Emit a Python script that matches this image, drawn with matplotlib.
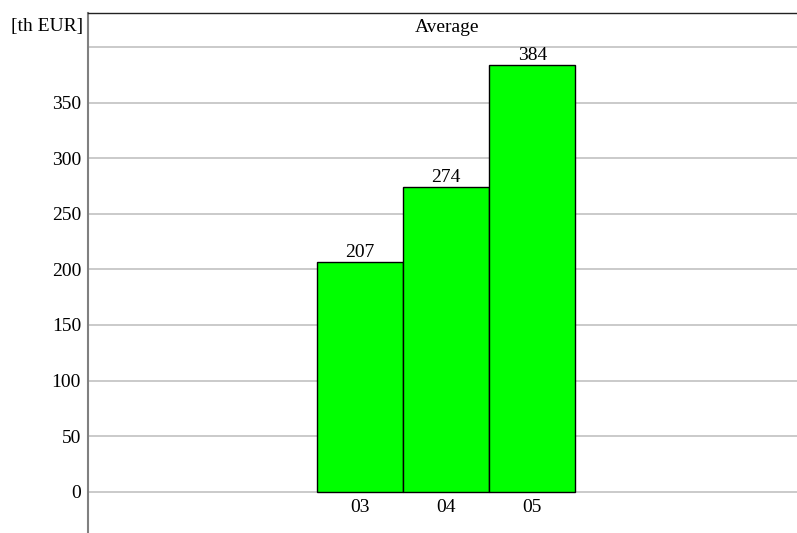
import matplotlib.pyplot as plt
import numpy as np

anos = ["03", "04", "05"]
medias = [207, 274, 384]
marcas_y = [0, 50, 100, 150, 200, 250, 300, 350]
linhas_grade = [0, 50, 100, 150, 200, 250, 300, 350, 400]

plt.rcParams['font.family'] = ['Liberation Serif', 'DejaVu Serif']
tam_fonte = 14

fig = plt.figure(figsize=(7.97, 5.33), dpi=100)
ax = fig.add_axes([88 / 797, 0, (797 - 88) / 797, (533 - 13) / 533])

x = np.arange(len(anos))
ax.bar(x, medias, width=1.0, color='#00ff00', edgecolor='black', linewidth=1, zorder=3)

for y in linhas_grade:
    ax.axhline(y, color='#c6c6c6', linewidth=1.3, zorder=1)

for xi, v in zip(x, medias):
    ax.annotate(str(v), (xi, v), xytext=(0, 0.5), textcoords='offset points',
                ha='center', va='bottom', fontsize=tam_fonte, zorder=4)

# rótulos do eixo x ficam dentro da área (abaixo do zero)
for xi, rotulo in zip(x, anos):
    ax.text(xi, -14.5, rotulo, ha='center', va='center', fontsize=tam_fonte)

ax.set_xlim(-3.157, 5.073)
ax.set_ylim(-37.1, 430.6)
ax.set_xticks([])
ax.set_yticks(marcas_y)
ax.tick_params(axis='y', length=0, labelsize=tam_fonte, pad=5)

ax.spines['right'].set_visible(False)
ax.spines['bottom'].set_visible(False)
ax.spines['left'].set_color('#808080')
ax.spines['left'].set_linewidth(1.5)
ax.spines['top'].set_color('#222222')
ax.spines['top'].set_linewidth(1.0)

fig.text(447 / 797, 1 - 28 / 533, "Average", ha='center', va='center', fontsize=tam_fonte)
fig.text(83 / 797, 1 - 27 / 533, "[th EUR]", ha='right', va='center', fontsize=tam_fonte)

plt.savefig("out.png", dpi=100)
